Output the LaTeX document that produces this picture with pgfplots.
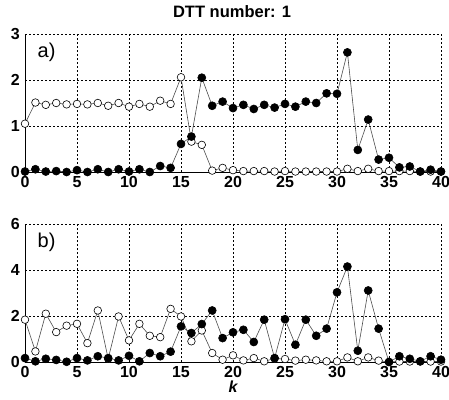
\documentclass[border=0pt]{standalone}
\usepackage{pgfplots}
\pgfplotsset{compat=1.18}
\usepackage{fontspec}
\setmainfont{Liberation Sans}
\begin{document}
\begin{tikzpicture}[x=1pt,y=1pt]
\useasboundingbox (0,0) rectangle (449,399);
\pgfplotsset{
  common/.style={
    anchor=south west, scale only axis, width=416pt, height=138pt,
    xmin=0, xmax=40, xtick={0,5,...,40},
    axis lines*=left, axis line style={black, line width=0.7pt},
    grid=major, grid style={black, line width=0.6pt, dash pattern=on 2pt off 2pt},
    major tick length=0pt,
    /pgf/number format/assume math mode=true,
    ticklabel style={font=\fontsize{16}{16}\selectfont\bfseries},
    xticklabel style={inner sep=0pt, yshift=-4pt},
    yticklabel style={inner sep=0pt, xshift=-5pt},
    clip=false,
  },
  openser/.style={color=black!70, line width=0.6pt, mark=*, mark size=3.8pt,
    mark options={draw=black, fill=white, line width=0.6pt}},
  fillser/.style={color=black!70, line width=0.6pt, mark=*, mark size=4pt,
    mark options={draw=black, fill=black}},
}
\node[font=\fontsize{16.5}{16.5}\selectfont\bfseries] at (232,387) {DTT number: 1};
\node[font=\fontsize{16}{16}\selectfont\bfseries\itshape] at (233,12) {k};
% top panel
\begin{axis}[common, at={(25pt,227pt)}, ymin=0, ymax=3, ytick={0,1,2,3}]
\addplot[openser] coordinates {
(0,1.05)(1,1.51)(2,1.46)(3,1.50)(4,1.47)(5,1.48)(6,1.47)(7,1.50)(8,1.44)(9,1.50)
(10,1.42)(11,1.48)(12,1.42)(13,1.55)(14,1.48)(15,2.06)(16,0.66)(17,0.59)(18,0.03)(19,0.09)
(20,0.04)(21,0.02)(22,0.02)(23,0.02)(24,0.01)(25,0.02)(26,0.01)(27,0.01)(28,0.01)(29,0.01)
(30,0.01)(31,0.07)(32,0.02)(33,0.07)(34,0.02)(35,0.02)(36,0.02)(37,0.02)(38,0.01)(39,0.01)(40,0.01)};
\addplot[fillser] coordinates {
(0,0.01)(1,0.06)(2,0.01)(3,0.02)(4,0.00)(5,0.04)(6,0.00)(7,0.06)(8,0.00)(9,0.06)
(10,0.01)(11,0.06)(12,0.00)(13,0.13)(14,0.09)(15,0.61)(16,0.77)(17,2.05)(18,1.44)(19,1.53)
(20,1.39)(21,1.46)(22,1.37)(23,1.46)(24,1.40)(25,1.48)(26,1.42)(27,1.53)(28,1.50)(29,1.71)
(30,1.70)(31,2.60)(32,0.48)(33,1.14)(34,0.27)(35,0.31)(36,0.10)(37,0.12)(38,0.01)(39,0.05)(40,0.01)};
\node[anchor=west, font=\fontsize{20}{20}\selectfont] at (rel axis cs:0.022,0.87) {a)};
\end{axis}
% bottom panel
\begin{axis}[common, at={(25pt,37pt)}, ymin=0, ymax=6, ytick={0,2,4,6}]
\addplot[openser] coordinates {
(0,1.84)(1,0.46)(2,2.10)(3,1.30)(4,1.58)(5,1.66)(6,0.82)(7,2.24)(8,0.14)(9,1.98)
(10,0.94)(11,1.66)(12,1.14)(13,1.08)(14,2.31)(15,1.98)(16,0.90)(17,1.37)(18,0.39)(19,0.10)
(20,0.29)(21,0.07)(22,0.17)(23,0.03)(24,0.15)(25,0.13)(26,0.06)(27,0.10)(28,0.07)(29,0.03)
(30,0.03)(31,0.20)(32,0.03)(33,0.20)(34,0.06)(35,0.00)(36,0.02)(37,0.02)(38,0.02)(39,0.02)(40,0.02)};
\addplot[fillser] coordinates {
(0,0.17)(1,0.03)(2,0.14)(3,0.09)(4,0.01)(5,0.17)(6,0.07)(7,0.25)(8,0.17)(9,0.07)
(10,0.27)(11,0.03)(12,0.39)(13,0.25)(14,0.45)(15,1.55)(16,1.26)(17,1.65)(18,2.24)(19,1.04)
(20,1.29)(21,1.40)(22,0.87)(23,1.84)(24,0.17)(25,1.86)(26,0.75)(27,1.84)(28,1.14)(29,1.45)
(30,3.03)(31,4.15)(32,0.49)(33,3.11)(34,1.45)(35,0.00)(36,0.25)(37,0.14)(38,0.03)(39,0.25)(40,0.10)};
\node[anchor=west, font=\fontsize{20}{20}\selectfont] at (rel axis cs:0.022,0.87) {b)};
\end{axis}
\end{tikzpicture}
\end{document}
